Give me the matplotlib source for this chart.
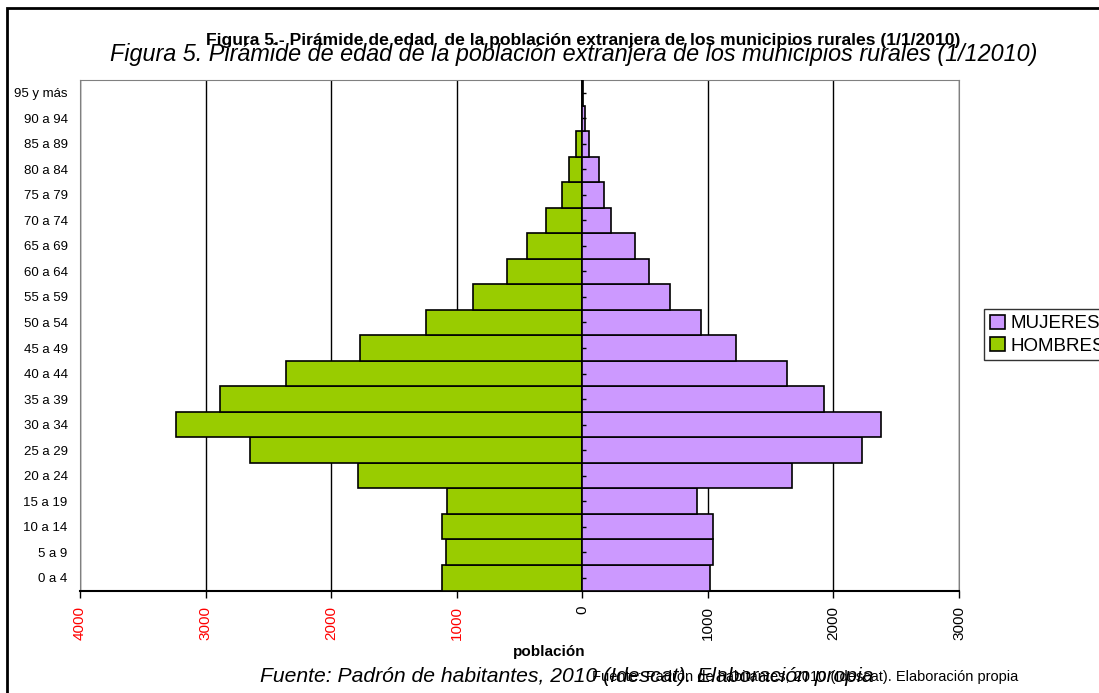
import numpy as np
import matplotlib
matplotlib.use('Agg')
import matplotlib.pyplot as plt
from matplotlib.patches import Rectangle

plt.rcParams['font.family'] = ['Liberation Sans', 'DejaVu Sans']

edades = ['0 a 4', '5 a 9', '10 a 14', '15 a 19', '20 a 24', '25 a 29', '30 a 34',
          '35 a 39', '40 a 44', '45 a 49', '50 a 54', '55 a 59', '60 a 64', '65 a 69',
          '70 a 74', '75 a 79', '80 a 84', '85 a 89', '90 a 94', '95 y más']
hombres = [1120, 1083, 1120, 1077, 1787, 2644, 3236, 2882, 2360, 1769,
           1245, 869, 601, 437, 287, 165, 107, 49, 6, 3]
mujeres = [1018, 1044, 1039, 916, 1669, 2226, 2378, 1924, 1634, 1225,
           948, 699, 534, 420, 231, 173, 135, 53, 21, 4]
xticks = [-4000, -3000, -2000, -1000, 0, 1000, 2000, 3000]

W, H = 1099, 693
fig = plt.figure(figsize=(W / 100, H / 100), dpi=100)
ax = fig.add_axes([80 / W, 1 - 590.5 / H, (959 - 80) / W, (590.5 - 80) / H])

y = np.arange(len(edades))
ax.barh(y, -np.array(hombres), height=1, color='#99CC00', edgecolor='black', lw=1.2,
        label='HOMBRES', zorder=3)
ax.barh(y, mujeres, height=1, color='#CC99FF', edgecolor='black', lw=1.2,
        label='MUJERES', zorder=3)
# marcas del eje de categorias en x=0
ax.plot(np.zeros(len(y)), y, ls='none', marker=1, ms=3, color='black', zorder=4)

ax.set_xlim(-4000, 3000)
ax.set_ylim(-0.5, len(edades) - 0.5)
ax.set_yticks(y)
ax.set_yticklabels(edades, fontsize=9.5)
ax.tick_params(axis='y', length=0, pad=9)
ax.set_xticks(xticks)
ax.set_xticklabels([str(abs(v)) for v in xticks], rotation=90, fontsize=11)
for lab, v in zip(ax.get_xticklabels(), xticks):
    lab.set_color('red' if v < 0 else 'black')
ax.tick_params(axis='x', length=5, width=1, pad=6)
ax.grid(axis='x', color='black', lw=1, zorder=0)
for s in ['left', 'top', 'right']:
    ax.spines[s].set_color('#808080')
ax.spines['bottom'].set_color('black')
ax.spines['bottom'].set_linewidth(1.5)

fig.text(0.5, 1 - 652 / H, 'población', ha='center', va='center', fontsize=11,
         fontweight='bold', transform=fig.transFigure)
fig.text(583 / W, 1 - 40 / H,
         'Figura 5.- Pirámide de edad  de la población extranjera de los municipios rurales (1/1/2010)',
         ha='center', va='center', fontsize=12.6, fontweight='bold')
fig.text(574 / W, 1 - 55 / H,
         'Figura 5. Pirámide de edad de la población extranjera de los municipios rurales (1/12010)',
         ha='center', va='center', fontsize=16.8, style='italic')
fig.text(567 / W, 1 - 676 / H,
         'Fuente: Padrón de habitantes, 2010 (Idescat). Elaboración propia',
         ha='center', va='center', fontsize=15.2, style='italic')
fig.text(1018 / W, 1 - 677 / H,
         'Fuente: Padrón de habitantes, 2010 (Idescat). Elaboración propia',
         ha='right', va='center', fontsize=10.5)

h, l = ax.get_legend_handles_labels()
leg = fig.legend(h[::-1], l[::-1], loc='upper left', bbox_to_anchor=(984 / W, 1 - 309 / H),
                 fontsize=13.5, frameon=True, fancybox=False, edgecolor='black',
                 handlelength=0.8, handleheight=0.8, handletextpad=0.3,
                 borderpad=0.3, labelspacing=0.25, borderaxespad=0)
leg.get_frame().set_linewidth(1)

fig.patches.append(Rectangle((6.5 / W, -0.1), 1.2, 1 - 8 / H + 0.1, transform=fig.transFigure,
                             fill=False, edgecolor='black', lw=2))

fig.savefig('out.png', dpi=100)
